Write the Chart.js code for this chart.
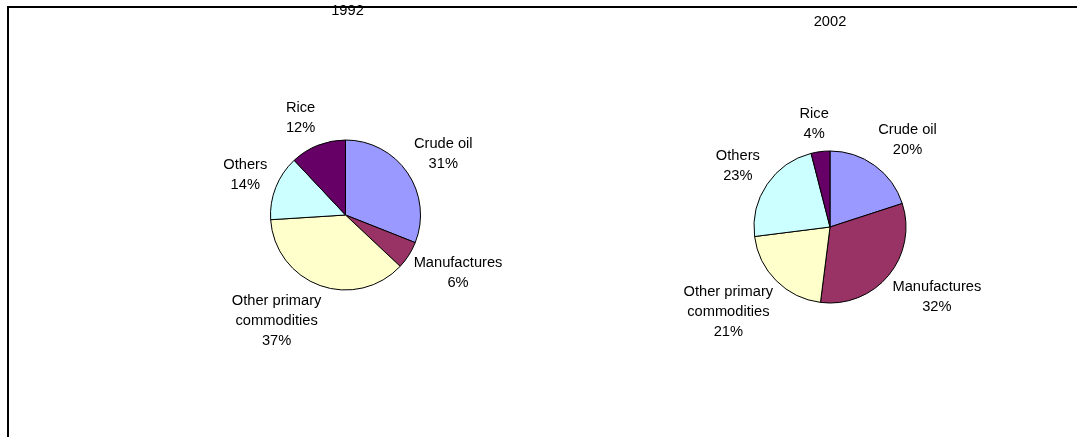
<!DOCTYPE html>
<html><head><meta charset="utf-8">
<script src="https://cdn.jsdelivr.net/npm/chart.js@4/dist/chart.umd.min.js"></script>
<style>
html,body{margin:0;padding:0;background:#fff;overflow:hidden;width:1077px;height:437px}
#frame{position:absolute;left:7px;top:6px;width:1080px;height:440px;border-top:2px solid #000;border-left:2px solid #000}
canvas{position:absolute;top:0}
#c1{left:0}
#c2{left:538px}
</style></head><body>
<div id="frame"></div>
<canvas id="c1" width="538" height="437"></canvas>
<canvas id="c2" width="539" height="437"></canvas>
<script>
const categories = ['Crude oil', 'Manufactures', ['Other primary', 'commodities'], 'Others', 'Rice'];
const years = ['1992', '2002'];
const values1992 = [31, 6, 37, 14, 12];
const values2002 = [20, 32, 21, 23, 4];
const sliceColors = ['#9999FF', '#993366', '#FFFFCC', '#CCFFFF', '#660066'];

const FONT = '14.67px "Liberation Sans", Arial, sans-serif';
const LINE_H = 20;

const outsideLabels = {
  id: 'outsideLabels',
  afterDatasetsDraw(chart) {
    const ctx = chart.ctx;
    const meta = chart.getDatasetMeta(0);
    const data = chart.data.datasets[0].data;
    const total = data.reduce((a, b) => a + b, 0);
    ctx.save();
    ctx.font = FONT;
    ctx.fillStyle = '#000';
    ctx.textAlign = 'center';
    ctx.textBaseline = 'middle';
    meta.data.forEach((arc, i) => {
      const p = arc.getProps(['x', 'y', 'startAngle', 'endAngle', 'outerRadius'], true);
      const mid = (p.startAngle + p.endAngle) / 2;
      const dx = Math.cos(mid), dy = Math.sin(mid);
      const lbl = chart.data.labels[i];
      const lines = (Array.isArray(lbl) ? lbl.slice() : [lbl]);
      lines.push(Math.round(data[i] / total * 100) + '%');
      const w = Math.max(...lines.map(l => ctx.measureText(l).width));
      const h = lines.length * LINE_H;
      const a = p.outerRadius + 12;
      const sx = Math.sign(dx) * Math.min(1, Math.abs(dx) * 3) * 0.88;
      const sy = Math.sign(dy) * Math.min(0.8, Math.abs(dy) * 1.05);
      const cx = p.x + a * dx + sx * w / 2;
      const cy = p.y + a * dy + sy * h / 2;
      lines.forEach((l, k) => {
        ctx.fillText(l, cx, cy - (lines.length - 1) * LINE_H / 2 + k * LINE_H);
      });
    });
    ctx.restore();
  }
};

const yearTitle = {
  id: 'yearTitle',
  afterDraw(chart, args, opts) {
    const ctx = chart.ctx;
    const ca = chart.chartArea;
    ctx.save();
    ctx.font = FONT;
    ctx.fillStyle = '#000';
    ctx.textAlign = 'center';
    ctx.textBaseline = 'middle';
    ctx.fillText(opts.text, (ca.left + ca.right) / 2 + (opts.dx || 0), opts.y);
    ctx.restore();
  }
};

function makePie(id, values, title, radius, padding, titleY, titleDx) {
  return new Chart(document.getElementById(id), {
    type: 'pie',
    data: {
      labels: categories,
      datasets: [{
        data: values,
        backgroundColor: sliceColors,
        borderColor: '#000',
        borderWidth: 1,
        radius: radius,
        hoverOffset: 0
      }]
    },
    options: {
      responsive: false,
      animation: false,
      devicePixelRatio: 1,
      layout: { padding: padding },
      events: [],
      plugins: {
        legend: { display: false },
        tooltip: { enabled: false },
        title: { display: false },
        yearTitle: { text: title, y: titleY, dx: titleDx }
      }
    },
    plugins: [outsideLabels, yearTitle]
  });
}

makePie('c1', values1992, years[0], 75, { left: 153, right: 0, top: 0, bottom: 7 }, 10.5, 2);
makePie('c2', values2002, years[1], 76, { left: 45, right: 0, top: 17, bottom: 0 }, 22, 0);
</script>
</body></html>
